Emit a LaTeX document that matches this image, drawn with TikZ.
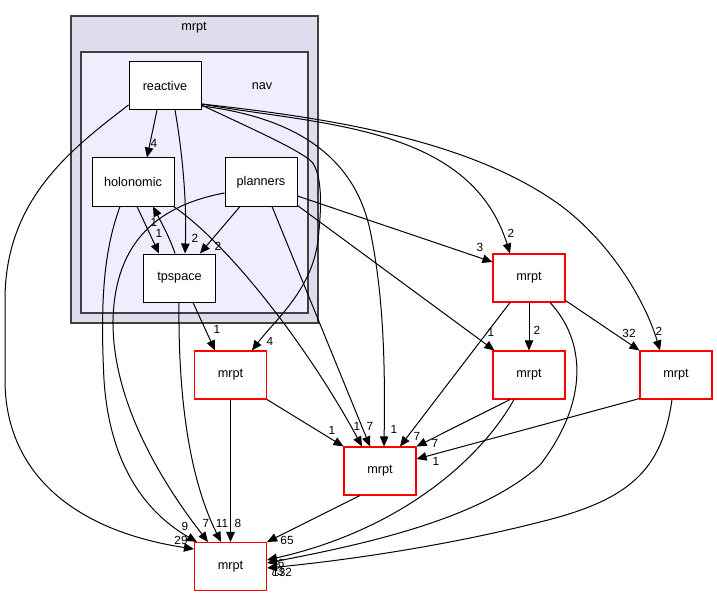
\documentclass[tikz,border=0pt]{standalone}
\usepackage{fontspec}
\setmainfont{Liberation Sans}
\usetikzlibrary{arrows.meta}
\definecolor{outerfill}{HTML}{DDDDEE}
\definecolor{innerfill}{HTML}{EEEEFF}
\definecolor{clline}{HTML}{404040}
\definecolor{extred}{HTML}{FF0000}
\begin{document}
\begin{tikzpicture}[x=1pt,y=-1pt]
\tikzset{
  dirbox/.style={draw=black, fill=white, line width=1pt, minimum width=72pt, minimum height=48pt, inner sep=0pt, font=\fontsize{12.7}{14}\selectfont},
  extbox/.style={draw=extred, fill=white, line width=1.1pt, minimum width=72pt, minimum height=48pt, inner sep=0pt, font=\fontsize{12.7}{14}\selectfont},
  elabel/.style={font=\fontsize{11.8}{13}\selectfont, inner sep=0pt},
  cltext/.style={font=\fontsize{12.7}{14}\selectfont, inner sep=0pt},
  dep/.style={line width=1pt, -{Triangle[length=10pt,width=8.5pt]}},
  cluster/.style={draw=clline, line width=1.5pt, inner sep=0pt}
}
\useasboundingbox (0,0) rectangle (717,596);
% clusters
\node[cluster, fill=outerfill, minimum width=247pt, minimum height=307pt] (outer) at (194.5,169.5) {};
\node[cluster, fill=innerfill, minimum width=227pt, minimum height=261pt] (inner) at (194.5,182.5) {};
\node[cltext] (outerlbl) at (194,28) {mrpt};
\node[cltext] (innerlbl) at (262,86) {nav};
% nodes
\node[dirbox] (reactive) at (165,85.5) {reactive};
\node[dirbox, minimum width=82pt] (holonomic) at (133,182) {holonomic};
\node[dirbox] (planners) at (261,182) {planners};
\node[dirbox] (tpspace) at (179.5,278) {tpspace};
\node[extbox] (A) at (230.5,375) {mrpt};
\node[extbox] (B) at (529,278) {mrpt};
\node[extbox] (C) at (529,375) {mrpt};
\node[extbox] (D) at (676,375) {mrpt};
\node[extbox] (E) at (380,471) {mrpt};
\node[extbox] (F) at (230.5,566.5) {mrpt};
% edges
\draw[dep] ([xshift=-8pt]reactive.south) -- ([xshift=14pt]holonomic.north);
\draw[dep] ([xshift=10pt]reactive.south) .. controls (182,150) and (187,200) .. ([xshift=5.5pt]tpspace.north);
\draw[dep] ([xshift=4pt]holonomic.south) -- ([xshift=-20.5pt]tpspace.north);
\draw[dep] ([xshift=-4.5pt]tpspace.north) .. controls (170,238) and (160,220) .. ([xshift=20pt]holonomic.south);
\draw[dep] ([xshift=-21pt]planners.south) -- ([xshift=20.5pt]tpspace.north);
\draw[dep] ([yshift=5pt]reactive.south west) .. controls (70,150) and (5,200) .. (5,300) -- (5,380) .. controls (5,470) and (70,530) .. ([yshift=17.5pt]F.west);
\draw[dep] ([xshift=-13pt]holonomic.south) .. controls (104,250) and (100,300) .. (104,380) .. controls (110,470) and (150,515) .. ([xshift=-33.5pt]F.north);
\draw[dep] ([yshift=-11pt]planners.west) .. controls (160,205) and (115,240) .. (113,320) .. controls (112,400) and (160,480) .. ([xshift=-22.5pt]F.north);
\draw[dep] ([xshift=-0.5pt]tpspace.south) .. controls (178,400) and (190,480) .. ([xshift=-9.5pt]F.north);
\draw[dep] ([xshift=13.5pt]tpspace.south) -- ([xshift=-15.5pt]A.north);
\draw[dep] (A.south) -- (F.north);
\draw[dep] (A.south east) -- (E.north west);
\draw[dep] ([xshift=-20pt]E.south) -- (F.north east);
\draw[dep] ([xshift=-1pt]holonomic.south east) .. controls (230,245) and (310,350) .. ([xshift=-18pt]E.north);
\draw[dep] ([xshift=11pt]planners.south) -- ([xshift=-10pt]E.north);
\draw[dep] ([yshift=4pt]reactive.south east) .. controls (300,118) and (355,160) .. (370,230) .. controls (385,300) and (385,380) .. ([xshift=4pt]E.north);
\draw[dep] ([yshift=5pt]reactive.south east) .. controls (250,128) and (300,150) .. (312,162) .. controls (322,175) and (322,205) .. (318,240) .. controls (312,290) and (275,320) .. ([xshift=21.5pt]A.north);
\draw[dep] ([yshift=6pt]reactive.south east) .. controls (320,125) and (470,125) .. ([xshift=-19pt]B.north);
\draw[dep] ([yshift=6pt]reactive.south east) .. controls (330,118) and (470,140) .. (560,205) .. controls (610,242) and (645,300) .. ([xshift=-16pt]D.north);
\draw[dep] ([yshift=-14pt]planners.east) -- ([yshift=16pt]B.west);
\draw[dep] ([yshift=1pt]planners.south east) -- ([xshift=2pt]C.north west);
\draw[dep] (B.south) -- (C.north);
\draw[dep] ([yshift=2pt]B.south east) -- (D.north west);
\draw[dep] ([xshift=-19pt]B.south) -- ([xshift=20pt]E.north);
\draw[dep] ([xshift=-19pt]C.south) -- (E.north east);
\draw[dep] ([yshift=1pt]D.south west) -- ([yshift=12pt]E.east);
\draw[dep] ([xshift=21pt]B.south) .. controls (585,340) and (590,400) .. (540,465) .. controls (480,520) and (360,545) .. ([yshift=3.5pt]F.east);
\draw[dep] ([xshift=-15pt]C.south) .. controls (480,460) and (400,530) .. ([yshift=6.5pt]F.east);
\draw[dep] ([xshift=-4pt]D.south) .. controls (662,470) and (630,500) .. (540,522) .. controls (450,545) and (350,560) .. ([yshift=-1.5pt]F.east);
% edge labels
\node[elabel] (l1) at (154,143) {4};
\node[elabel] (l2) at (195,238) {2};
\node[elabel] (l3) at (159,233) {1};
\node[elabel] (l4) at (154,222) {1};
\node[elabel] (l5) at (218,246) {2};
\node[elabel] (l6) at (181,540) {29};
\node[elabel] (l7) at (185,526) {9};
\node[elabel] (l8) at (206,523) {7};
\node[elabel] (l9) at (222,523) {11};
\node[elabel] (l10) at (238,523) {8};
\node[elabel] (l11) at (217,329) {1};
\node[elabel] (l12) at (270,341) {4};
\node[elabel] (l13) at (332,430) {1};
\node[elabel] (l14) at (357,426) {1};
\node[elabel] (l15) at (370,426) {7};
\node[elabel] (l16) at (394,429) {1};
\node[elabel] (l17) at (417,436) {7};
\node[elabel] (l18) at (435,443) {7};
\node[elabel] (l19) at (436,461) {1};
\node[elabel] (l20) at (287,540) {65};
\node[elabel] (l21) at (480,247) {3};
\node[elabel] (l22) at (511,233) {2};
\node[elabel] (l23) at (491,332) {1};
\node[elabel] (l24) at (537,330) {2};
\node[elabel] (l25) at (629,333) {32};
\node[elabel] (l26) at (659,331) {2};
\node[elabel, anchor=west] (l27) at (271,563) {56};
\node[elabel, anchor=west] (l28) at (270,571) {73};
\node[elabel, anchor=west] (l29) at (272,572) {132};
\end{tikzpicture}
\end{document}
